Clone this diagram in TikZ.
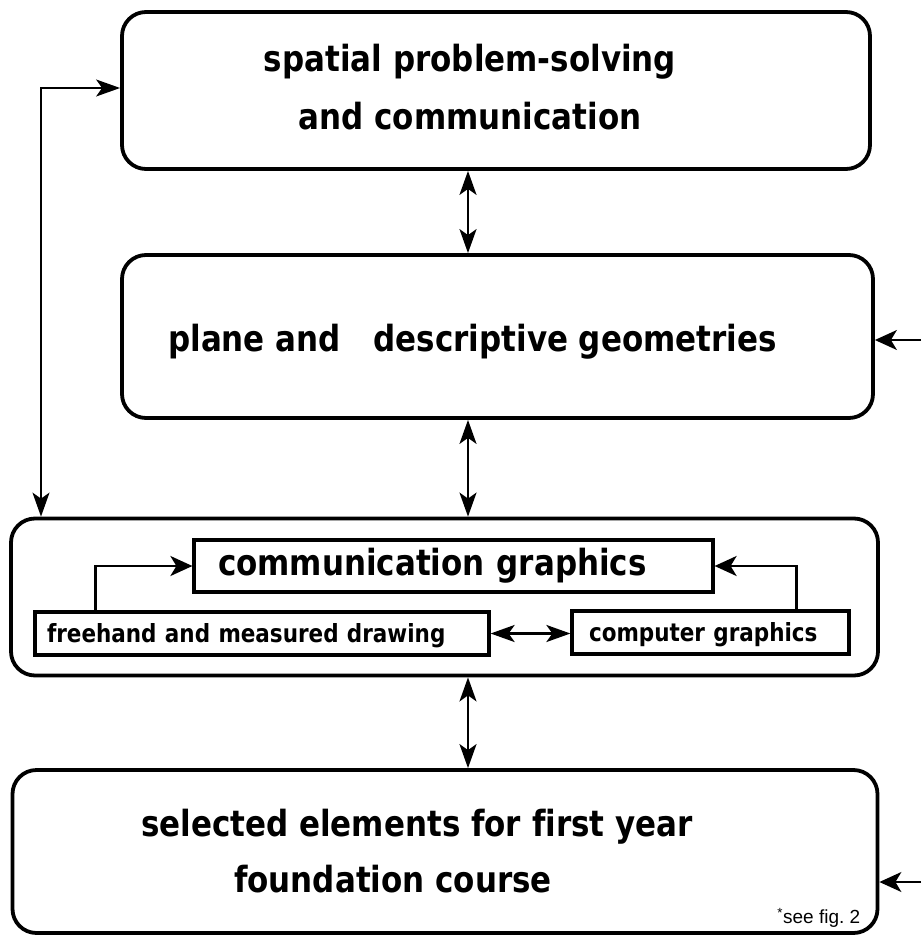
\documentclass[tikz,border=0pt]{standalone}
\usepackage{fontspec}
\setmainfont{Liberation Sans}
\newfontfamily\boxfont{DejaVu Sans}[FakeStretch=0.86,Ligatures=NoCommon]
\usetikzlibrary{arrows.meta}

\begin{document}
\begin{tikzpicture}[x=1pt,y=-1pt,
    bigbox/.style={draw,rounded corners=24pt,line width=3.8pt,inner sep=0pt},
    smallbox/.style={draw,rectangle,line width=3.2pt,inner ysep=0pt,align=left,font=\boxfont\bfseries\fontsize{25}{30}\selectfont},
    bigtext/.style={font=\boxfont\bfseries\fontsize{36}{56}\selectfont,align=center,inner sep=0pt},
    arrow/.style={-{Stealth[length=22pt,width=20pt,inset=6pt]},line width=2.6pt},
    link/.style={{Stealth[length=24pt,width=17pt,inset=6pt]}-{Stealth[length=24pt,width=17pt,inset=6pt]},line width=2.2pt}]
    \useasboundingbox (0,0) rectangle (921,936);

    \node[bigbox,minimum width=748pt,minimum height=157pt] (spatial) at (496,90.5) {};
    \node[bigtext] (spatialText) at ([xshift=-26pt,yshift=3pt]spatial.center) {spatial problem-solving\\[2pt]and communication};
    \node[bigbox,minimum width=751pt,minimum height=163pt] (plane) at (497.5,336.5) {};
    \node[bigtext] (planeText) at ([xshift=-25pt,yshift=-5pt]plane.center) {plane and\hspace{22pt} descriptive geometries};
    \node[bigbox,minimum width=867pt,minimum height=157pt] (media) at (444.5,597) {};
    \node[bigbox,minimum width=865pt,minimum height=163pt] (found) at (445,851.5) {};
    \node[bigtext] (foundText) at ([xshift=-28pt]found.center) {selected elements for first year\\foundation course\hspace*{48pt}};
    \node[anchor=base east,font=\fontsize{19}{22}\selectfont,inner sep=0pt] (seeFig) at ([xshift=-19pt,yshift=11pt]found.south east) {\textsuperscript{*}see fig.\ 2};

    \node[smallbox,font=\boxfont\bfseries\fontsize{36}{40}\selectfont,minimum height=52pt,text width=471pt,inner xsep=24pt] (commgfx) at (453.5,566) {communication graphics};
    \node[smallbox,minimum height=43pt,text width=430pt,inner xsep=12pt,text depth=2pt] (freehand) at (262,633.5) {freehand and measured drawing};
    \node[smallbox,minimum height=43pt,text width=243pt,inner xsep=17pt,text depth=2pt] (computer) at (710.5,632.5) {computer graphics};

    \coordinate (spine) at (468,0);
    \coordinate (loop) at (41,88);
    \coordinate (feedA) at (921,340);
    \coordinate (feedB) at (921,882);

    \draw[link] (spatial.south -| spine) -- (plane.north -| spine);
    \draw[link] (plane.south -| spine) -- (media.north -| spine);
    \draw[link] (media.south -| spine) -- (found.north -| spine);
    \draw[link,line width=1.5pt] (loop -| spatial.west) -- (loop) -- (loop |- media.north);
    \draw[arrow,line width=1.5pt] (feedA) -- (feedA -| plane.east);
    \draw[arrow,line width=1.5pt] (feedB) -- (feedB -| found.east);
    \draw[arrow] ([xshift=62pt]freehand.north west) |- (commgfx.west);
    \draw[arrow] ([xshift=-54pt]computer.north east) |- (commgfx.east);
    \draw[link,line width=2.6pt] (freehand.east) -- (freehand.east -| computer.west);
\end{tikzpicture}
\end{document}
